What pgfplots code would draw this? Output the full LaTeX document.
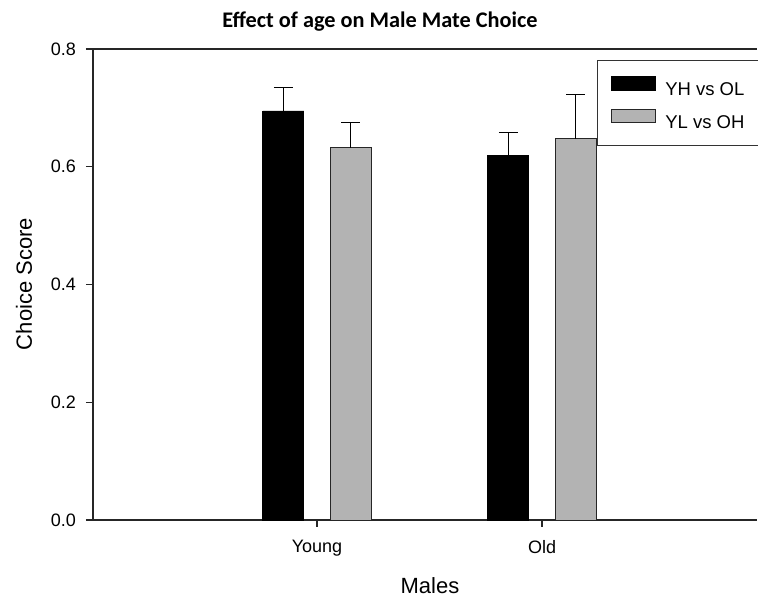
\documentclass[border=0pt]{standalone}
\usepackage{pgfplots}
\pgfplotsset{compat=1.18}
\usepackage{fontspec}
\setmainfont{Liberation Sans}
\newfontfamily\titlefont{Carlito}
\definecolor{bargray}{RGB}{179,179,179}
\begin{document}
\begin{tikzpicture}[x=1pt,y=1pt]
\begin{axis}[
  at={(93pt,81pt)}, anchor=south west,
  scale only axis, width=664pt, height=471pt,
  xmin=0.0044, xmax=2.955, ymin=0, ymax=0.8,
  axis lines=left, axis line style={-, line width=1.2pt, black!85},
  xtick={1,2}, xticklabels={Young,Old},
  ytick={0,0.2,0.4,0.6,0.8},
  yticklabel style={/pgf/number format/fixed, /pgf/number format/fixed zerofill, /pgf/number format/precision=1},
  /pgf/number format/assume math mode=true,
  tick align=outside, major tick length=7pt, tick style={line width=1.2pt, black!85},
  ticklabel style={font=\fontsize{18}{20}\selectfont},
  x tick label style={anchor=north, inner sep=0pt, yshift=-13pt},
  y tick label style={anchor=east, inner sep=0pt, xshift=-10pt},
  xlabel={Males}, ylabel={Choice Score},
  label style={font=\fontsize{22}{24}\selectfont},
  xlabel style={at={(rel axis cs:0.5075,0)}, anchor=base, yshift=-74pt},
  ylabel style={at={([xshift=-69pt]rel axis cs:0,0.501)}, anchor=center, rotate=0},
  bar width=41pt,
  clip=false,
  legend style={at={(rel axis cs:0.759,0.9766)}, anchor=north west, draw=black!80, line width=1pt,
    inner xsep=14pt, inner ysep=15.8pt, row sep=11.6pt, column sep=9pt,
    font=\fontsize{18.5}{20}\selectfont, nodes={inner sep=0pt}},
  legend cell align=left,
]
% x positions: Young = 1, Old = 2; bars sit 0.15 either side of the category
\addplot[ybar, bar shift=0pt, fill=black, draw=black, line width=0.8pt, forget plot,
  error bars/.cd, y dir=plus, y explicit,
  error bar style={line width=1pt, black},
  error mark options={rotate=90, mark size=9.5pt, line width=1pt, black}]
  coordinates {(0.85,0.6947) +- (0,0.0396) (1.85,0.6188) +- (0,0.0397)};
\addplot[ybar, bar shift=0pt, fill=bargray, draw=black!85, line width=0.8pt, forget plot,
  error bars/.cd, y dir=plus, y explicit,
  error bar style={line width=1pt, black},
  error mark options={rotate=90, mark size=9.5pt, line width=1pt, black}]
  coordinates {(1.15,0.6324) +- (0,0.0419) (2.15,0.6476) +- (0,0.0755)};
\draw[line width=1.2pt, black!85] (rel axis cs:0,1) -- (rel axis cs:1,1);
\addlegendimage{legend image code/.code={\draw[fill=black,draw=black,line width=0.8pt] (0pt,0pt) rectangle (44pt,13.4pt);}}
\addlegendentry{YH vs OL}
\addlegendimage{legend image code/.code={\draw[fill=bargray,draw=black!85,line width=0.8pt] (0pt,0pt) rectangle (44pt,13.4pt);}}
\addlegendentry{YL vs OH}
\end{axis}
\node[font=\titlefont\bfseries\fontsize{22.3}{26}\selectfont, anchor=base] at (380pt,573.3pt) {Effect of age on Male Mate Choice};
\pgfresetboundingbox
\useasboundingbox (0,0) rectangle (758pt,601pt);
\end{tikzpicture}
\end{document}
